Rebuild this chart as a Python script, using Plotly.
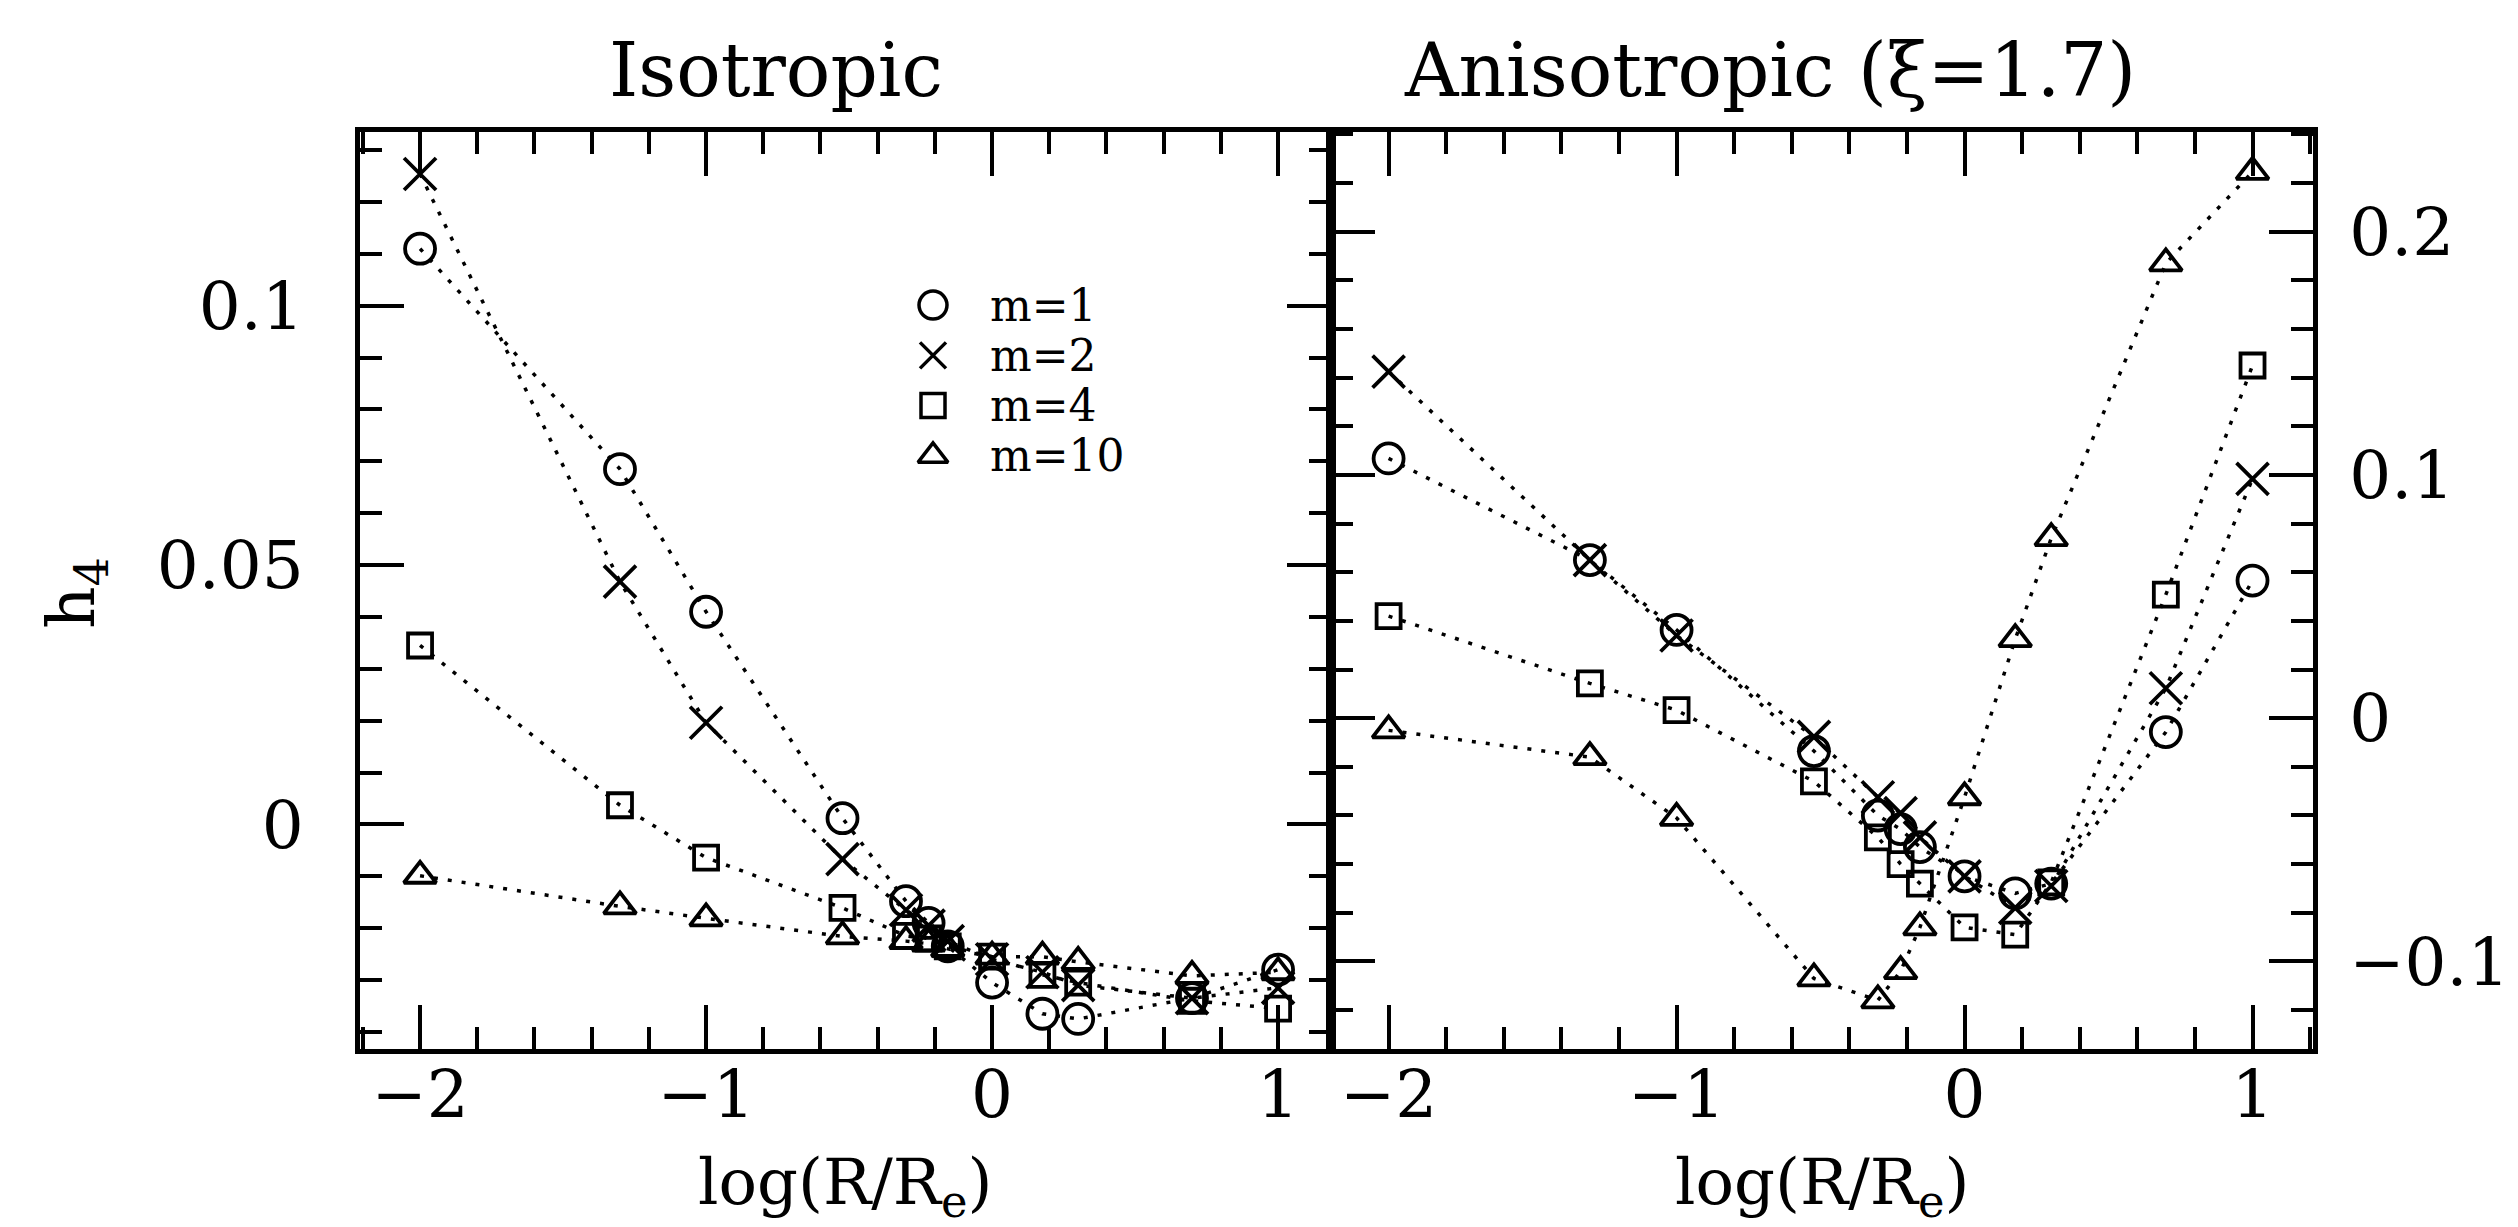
import plotly.graph_objects as go

# ---------------- data ----------------
x_log = [-2, -1.301, -1, -0.523, -0.301, -0.222, -0.155, 0, 0.176, 0.301, 0.699, 1]
series_names = ["m=1", "m=2", "m=4", "m=10"]

iso_m1 = [0.111, 0.0685, 0.041, 0.0012, -0.0148, -0.019, -0.0235, -0.0305, -0.0365, -0.0375, -0.0335, -0.028]
iso_m2 = [0.1254, 0.0468, 0.0196, -0.0067, -0.0165, -0.0195, -0.0225, -0.026, -0.0285, -0.031, -0.0335, -0.0315]
iso_m4 = [0.0345, 0.0037, -0.0064, -0.0161, -0.0215, -0.022, -0.0235, -0.0255, -0.029, -0.0305, -0.034, -0.0355]
iso_m10 = [-0.0099, -0.0158, -0.0181, -0.0216, -0.0225, -0.023, -0.024, -0.0255, -0.0255, -0.0265, -0.0292, -0.0285]

aniso_m1 = [0.1068, 0.065, 0.0363, -0.0135, -0.040, -0.0456, -0.053, -0.065, -0.072, -0.068, -0.0057, 0.0566]
aniso_m2 = [0.1425, 0.065, 0.034, -0.0077, -0.0325, -0.039, -0.049, -0.065, -0.078, -0.069, 0.0123, 0.0984]
aniso_m4 = [0.042, 0.0143, 0.0033, -0.026, -0.049, -0.060, -0.068, -0.086, -0.089, -0.0675, 0.0508, 0.145]
aniso_m10 = [-0.005, -0.016, -0.041, -0.107, -0.116, -0.104, -0.086, -0.0325, 0.0325, 0.074, 0.187, 0.2246]

x_ticks = [-2, -1, 0, 1]
iso_y_ticks = [0, 0.05, 0.1]
aniso_y_ticks = [-0.1, 0, 0.1, 0.2]

# ---------------- styles ----------------
FONT = "DejaVu Serif"
symbols = ["circle-open", "x-thin-open", "square-open", "triangle-up-open"]
sizes = [30, 32, 24, 28]
legend_sizes = [28, 26, 24, 26]
DOT = "4px,10px"

fig = go.Figure()

panels = [
    ("x", "y", [iso_m1, iso_m2, iso_m4, iso_m10]),
    ("x2", "y2", [aniso_m1, aniso_m2, aniso_m4, aniso_m10]),
]
for xa, ya, series in panels:
    for name, vals, sym, sz in zip(series_names, series, symbols, sizes):
        fig.add_trace(go.Scatter(
            x=x_log, y=vals, xaxis=xa, yaxis=ya, name=name,
            mode="lines+markers", showlegend=False,
            line=dict(color="black", width=3.5, dash=DOT),
            marker=dict(symbol=sym, size=sz, color="black",
                        line=dict(color="black", width=3.8)),
        ))

# legend keys drawn on a small categorical axis
for name, sym, sz in zip(series_names, symbols, legend_sizes):
    fig.add_trace(go.Scatter(
        x=[0], y=[name], xaxis="x3", yaxis="y3", mode="markers",
        showlegend=False, cliponaxis=False,
        marker=dict(symbol=sym, size=sz, color="black",
                    line=dict(color="black", width=3.5)),
    ))

W, H = 2518, 1227
L, R, T, B = 352, 213, 124, 186
PW = W - L - R
PH = H - T - B
split = (1323 - L) / PW

tickfont = dict(family=FONT, size=66, color="black")
common = dict(
    showline=True, linewidth=5, linecolor="black", mirror="allticks",
    ticks="inside", ticklen=44, tickwidth=4, tickcolor="black",
    showgrid=False, zeroline=False, tickfont=tickfont, automargin=False,
)

fig.update_layout(
    width=W, height=H,
    margin=dict(l=L, r=R, t=T, b=B, autoexpand=False),
    paper_bgcolor="white", plot_bgcolor="white",
    showlegend=False,
    xaxis=dict(domain=[0, split], range=[-2.21, 1.185], anchor="y",
               tickvals=x_ticks, ticklabelstandoff=-16,
               minor=dict(ticks="inside", ticklen=22, tickwidth=4, tickcolor="black", dtick=0.2, tick0=0),
               **common),
    xaxis2=dict(domain=[split, 1], range=[-2.2, 1.21], anchor="y2",
                tickvals=x_ticks, ticklabelstandoff=-16,
                minor=dict(ticks="inside", ticklen=22, tickwidth=4, tickcolor="black", dtick=0.2, tick0=0),
                **common),
    yaxis=dict(domain=[0, 1], range=[-0.0433, 0.1335], anchor="x",
               tickvals=iso_y_ticks, ticktext=["0", "0.05", "0.1"], ticklabelstandoff=38,
               minor=dict(ticks="inside", ticklen=22, tickwidth=4, tickcolor="black", dtick=0.01, tick0=0),
               **common),
    yaxis2=dict(domain=[0, 1], range=[-0.136, 0.241], anchor="x2", side="right",
                tickvals=aniso_y_ticks, ticktext=["\u22120.1", "0", "0.1", "0.2"], ticklabelstandoff=18,
                minor=dict(ticks="inside", ticklen=22, tickwidth=4, tickcolor="black", dtick=0.02, tick0=0),
                **common),
    xaxis3=dict(domain=[(915 - L) / PW, (935 - L) / PW], range=[-1, 1], anchor="y3",
                visible=False, fixedrange=True, automargin=False),
    yaxis3=dict(domain=[1 - (473 - T) / PH, 1 - (272 - T) / PH], anchor="x3",
                type="category", categoryorder="array", categoryarray=series_names,
                tickmode="array", tickvals=series_names, ticktext=series_names,
                range=[3.5, -0.5], side="right", showline=False, ticks="",
                showgrid=False, zeroline=False, ticklabelstandoff=46, automargin=False,
                tickfont=dict(family=FONT, size=44, color="black")),
)

ann = []
ann.append(dict(text="Isotropic", x=(768 - L) / PW, y=1 + 62 / PH, xref="paper", yref="paper",
                showarrow=False, xanchor="center", yanchor="middle",
                font=dict(family=FONT, size=74, color="black")))
ann.append(dict(text="Anisotropic (\u03be=1.7)", x=(1762 - L) / PW, y=1 + 62 / PH, xref="paper", yref="paper",
                showarrow=False, xanchor="center", yanchor="middle",
                font=dict(family=FONT, size=74, color="black")))
for cx in [(837 - L) / PW, (1814 - L) / PW]:
    ann.append(dict(text="log(R/R<sub>e</sub>)", x=cx, y=-(1178 - 1041) / PH, xref="paper", yref="paper",
                    showarrow=False, xanchor="center", yanchor="middle",
                    font=dict(family=FONT, size=64, color="black")))
ann.append(dict(text="h<sub>4</sub>", x=(68 - L) / PW, y=1 - (585 - T) / PH, xref="paper", yref="paper",
                showarrow=False, xanchor="center", yanchor="middle", textangle=-90,
                font=dict(family=FONT, size=66, color="black")))
fig.update_layout(annotations=ann)

fig.write_html("out.html")
